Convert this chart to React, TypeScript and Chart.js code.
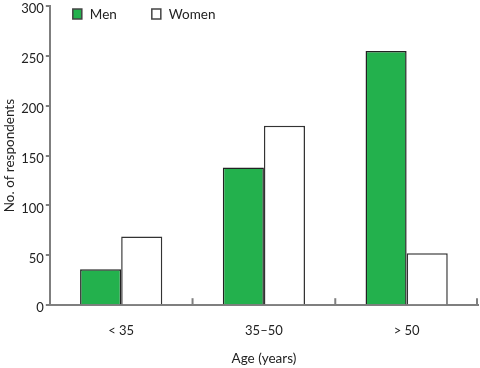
import React, { useEffect, useRef } from "react";
import { Chart, registerables } from "chart.js";

Chart.register(...registerables);

const categories = ["< 35", "35–50", "> 50"];
const menValues = [36, 138, 255];
const womenValues = [69, 180, 52];
const yTicks = [0, 50, 100, 150, 200, 250, 300];

const FONT = "Lato, 'DejaVu Sans', sans-serif";
const AXIS = "#7f7f7f";

const legendPlugin = {
  id: "customLegend",
  afterDraw(chart: any) {
    const ctx = chart.ctx;
    const area = chart.chartArea;
    const positions = [area.left + 23, area.left + 102];
    ctx.save();
    chart.data.datasets.forEach((ds: any, i: number) => {
      const x = positions[i];
      const y = area.top + 3;
      ctx.fillStyle = ds.backgroundColor;
      ctx.fillRect(x, y, 9, 10);
      ctx.strokeStyle = "#444";
      ctx.lineWidth = 1.5;
      ctx.strokeRect(x, y, 9, 10);
      ctx.fillStyle = "#222";
      ctx.font = `13.5px ${FONT}`;
      ctx.textBaseline = "middle";
      ctx.textAlign = "left";
      ctx.fillText(ds.label, x + 17, y + 6);
    });
    ctx.restore();
  },
};

const xTickPlugin = {
  id: "xBoundaryTicks",
  afterDraw(chart: any) {
    const ctx = chart.ctx;
    const xs = chart.scales.x;
    const area = chart.chartArea;
    const n = xs.ticks.length;
    ctx.save();
    ctx.strokeStyle = AXIS;
    ctx.lineWidth = 2;
    for (let i = 0; i < n; i++) {
      const x =
        i < n - 1
          ? (xs.getPixelForTick(i) + xs.getPixelForTick(i + 1)) / 2
          : area.right - 1;
      ctx.beginPath();
      ctx.moveTo(x, area.bottom);
      ctx.lineTo(x, area.bottom - 7);
      ctx.stroke();
    }
    ctx.restore();
  },
};

export default function App() {
  const ref = useRef<HTMLCanvasElement | null>(null);
  useEffect(() => {
    if (!ref.current) return;
    const chart = new Chart(ref.current, {
      type: "bar",
      data: {
        labels: categories,
        datasets: [
          {
            label: "Men",
            data: menValues,
            backgroundColor: "#23b14d",
            borderColor: "#222",
            borderWidth: 1.5,
            borderSkipped: "bottom",
            categoryPercentage: 0.576,
            barPercentage: 1,
          },
          {
            label: "Women",
            data: womenValues,
            backgroundColor: "#ffffff",
            borderColor: "#333",
            borderWidth: 1.5,
            borderSkipped: "bottom",
            categoryPercentage: 0.576,
            barPercentage: 1,
          },
        ],
      },
      options: {
        animation: false,
        responsive: false,
        maintainAspectRatio: false,
        layout: { padding: { left: 2, right: 2, top: 0, bottom: 1 } },
        plugins: {
          legend: { display: false },
          tooltip: { enabled: false },
        },
        scales: {
          x: {
            grid: { display: false, drawTicks: false },
            border: { color: AXIS, width: 2 },
            ticks: {
              color: "#222",
              font: { family: FONT, size: 13 },
              padding: 18,
            },
            title: {
              display: true,
              text: "Age (years)",
              color: "#222",
              font: { family: FONT, size: 13.5 },
              padding: { top: -6, bottom: 0 },
            },
          },
          y: {
            min: 0,
            max: 300,
            afterBuildTicks: (scale: any) => {
              scale.ticks = yTicks.map((v) => ({ value: v }));
            },
            afterFit: (scale: any) => {
              scale.paddingTop = 6;
            },
            grid: {
              display: true,
              drawOnChartArea: false,
              drawTicks: true,
              tickLength: 4,
              color: AXIS,
              lineWidth: 2,
            },
            border: { color: AXIS, width: 2 },
            ticks: {
              color: "#222",
              font: { family: FONT, size: 13 },
              padding: 2,
              labelOffset: 3,
            },
            title: {
              display: true,
              text: "No. of respondents",
              color: "#222",
              font: { family: FONT, size: 13.5 },
              padding: { top: 0, bottom: 1 },
            },
          },
        },
      },
      plugins: [legendPlugin, xTickPlugin],
    });
    return () => chart.destroy();
  }, []);
  return (
    <div style={{ position: "fixed", left: 0, top: 0, width: 480, height: 368, background: "#fff" }}>
      <canvas ref={ref} width={480} height={368} style={{ display: "block" }} />
    </div>
  );
}
